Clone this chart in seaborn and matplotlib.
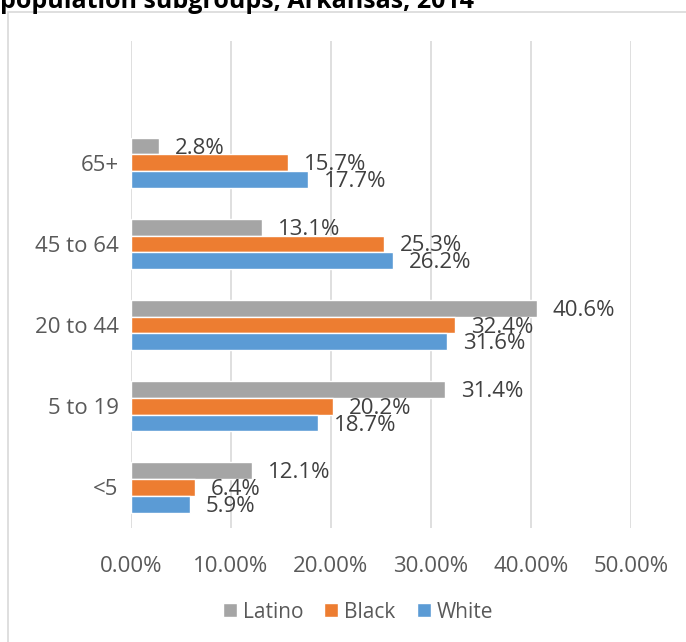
import pandas as pd
import numpy as np
import matplotlib
matplotlib.use("Agg")
import matplotlib.pyplot as plt
import seaborn as sns
from matplotlib.patches import Rectangle

# values (percent)
ages = ["65+", "45 to 64", "20 to 44", "5 to 19", "<5"]
groups = ["Latino", "Black", "White"]
latino = [2.8, 13.1, 40.6, 31.4, 12.1]
black = [15.7, 25.3, 32.4, 20.2, 6.4]
white = [17.7, 26.2, 31.6, 18.7, 5.9]
ticks = [0, 10, 20, 30, 40, 50]
colors = ["#A5A5A5", "#ED7D31", "#5B9BD5"]

df = pd.DataFrame({
    "age": ages * 3,
    "group": np.repeat(groups, len(ages)),
    "pct": latino + black + white,
})

sns.set_theme(style="white")
plt.rcParams["font.family"] = ["Open Sans", "DejaVu Sans"]
fs = 16

fig = plt.figure(figsize=(6.86, 6.42), dpi=100)
ax = fig.add_axes([131 / 686, 1 - 528 / 642, 500 / 686, 487 / 642])

sns.barplot(data=df, y="age", x="pct", hue="group", order=ages,
            hue_order=groups, palette=colors, orient="h", width=0.62,
            saturation=1, ax=ax, legend=True)

ax.set_xlim(0, 50)
ax.set_ylim(4.5, -1.5)
ax.set_xticks(ticks)
ax.set_xticklabels([f"{t:.2f}%" for t in ticks])
ax.set_xlabel("")
ax.set_ylabel("")
for s in ax.spines.values():
    s.set_visible(False)
ax.grid(axis="x", color="#D9D9D9", lw=1.2)
ax.grid(axis="y", visible=False)
ax.set_axisbelow(True)
ax.tick_params(axis="both", length=0, labelsize=fs, colors="#595959")
ax.tick_params(axis="x", pad=20)
ax.tick_params(axis="y", pad=9)

# data labels
for cont in ax.containers:
    for bar in cont:
        w = bar.get_width()
        ax.annotate(f"{w:.1f}%", (w, bar.get_y() + bar.get_height() / 2),
                    xytext=(11.5, -1.5), textcoords="offset points",
                    ha="left", va="center", fontsize=fs, color="#404040")

ax.legend(loc="center", bbox_to_anchor=(358 / 686, 1 - 612 / 642),
          bbox_transform=fig.transFigure, ncol=3, frameon=False,
          handlelength=0.67, handleheight=0.67, handletextpad=0.3,
          columnspacing=1.0, fontsize=fs - 1, labelcolor="#595959",
          borderpad=0)

# chart border and clipped title
fig.patches.append(Rectangle((8 / 686, -0.1), 1.2, 1 - 12 / 642 + 0.1,
                             transform=fig.transFigure, fill=False,
                             edgecolor="#D9D9D9", lw=1.2))
fig.text(0.0, 1 - 8 / 642, "population subgroups, Arkansas, 2014",
         fontsize=18, fontweight="bold", color="black", va="baseline",
         ha="left")

fig.savefig("out.png", dpi=100)
